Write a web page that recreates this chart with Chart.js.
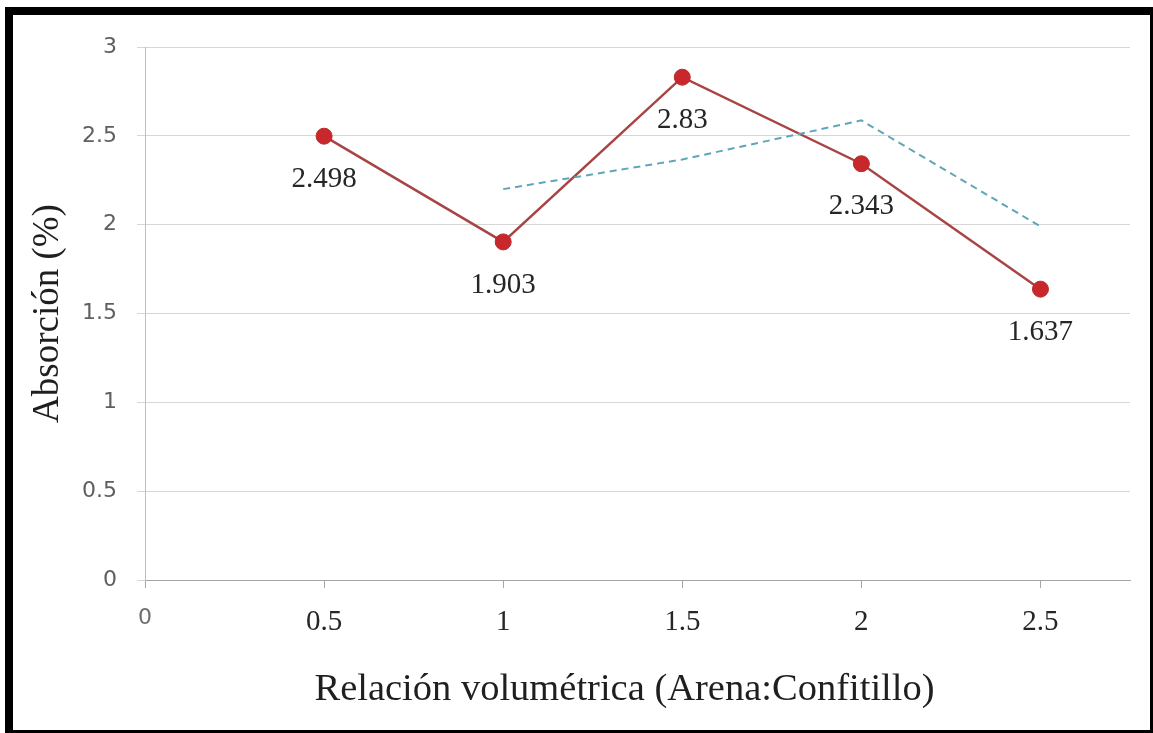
<!DOCTYPE html>
<html lang="es">
<head>
<meta charset="utf-8">
<title>Absorción vs relación volumétrica</title>
<script src="https://cdn.jsdelivr.net/npm/chart.js@4.4.1/dist/chart.umd.min.js"></script>
<style>
  html, body { margin: 0; padding: 0; background: #ffffff; }
  #wrap { position: relative; width: 1153px; height: 733px; }
  #chart { position: absolute; left: 0; top: 0; }
  #frame {
    position: absolute; left: 5px; top: 7px; right: 0; bottom: 0;
    border-style: solid; border-color: #000000;
    border-width: 8px 3px 3px 8px;
    pointer-events: none;
  }
</style>
</head>
<body>
<div id="wrap">
  <canvas id="chart" width="1153" height="733"></canvas>
  <div id="frame"></div>
</div>
<script>
// Relación volumétrica (Arena:Confitillo) and measured absorption (%)
const ratios = [0.5, 1, 1.5, 2, 2.5];
const absorcion = [2.498, 1.903, 2.83, 2.343, 1.637];

// Two-period moving average trend line
const trendRatios = [1, 1.5, 2, 2.5];
const trendValues = [2.2, 2.367, 2.587, 1.99];

// Axis ticks
const xTicks = [0, 0.5, 1, 1.5, 2, 2.5];
const yTicks = [0, 0.5, 1, 1.5, 2, 2.5, 3];

const xTitle = 'Relación volumétrica (Arena:Confitillo)';
const yTitle = 'Absorción (%)';

const SERIF = '"Liberation Serif", "Times New Roman", serif';
const SANS = '"DejaVu Sans", Verdana, sans-serif';

// Value labels under each point
const valueLabels = {
  id: 'valueLabels',
  afterDatasetsDraw(chart) {
    const meta = chart.getDatasetMeta(0);
    const ctx = chart.ctx;
    ctx.save();
    ctx.font = '29px ' + SERIF;
    ctx.fillStyle = '#262626';
    ctx.textAlign = 'center';
    ctx.textBaseline = 'middle';
    meta.data.forEach((pt, i) => {
      ctx.fillText(String(absorcion[i]), pt.x, pt.y + 43);
    });
    ctx.restore();
  }
};

// Horizontal axis caption, set slightly left of the plot centre
const xCaption = {
  id: 'xCaption',
  afterDraw(chart) {
    const { ctx, chartArea } = chart;
    ctx.save();
    ctx.font = '38.5px ' + SERIF;
    ctx.fillStyle = '#1f1f1f';
    ctx.textAlign = 'center';
    ctx.textBaseline = 'middle';
    ctx.fillText(xTitle, (chartArea.left + chartArea.right) / 2 - 13, chartArea.bottom + 110);
    ctx.restore();
  }
};

new Chart(document.getElementById('chart'), {
  type: 'line',
  data: {
    datasets: [
      {
        label: 'Absorción',
        data: ratios.map((r, i) => ({ x: r, y: absorcion[i] })),
        borderColor: '#A94444',
        borderWidth: 2.5,
        pointRadius: 8,
        pointBackgroundColor: '#C8282B',
        pointBorderColor: '#BA2A2A',
        pointBorderWidth: 1,
        tension: 0,
        order: 1
      },
      {
        label: 'Media móvil',
        data: trendRatios.map((r, i) => ({ x: r, y: trendValues[i] })),
        borderColor: '#5FA6BA',
        borderWidth: 2,
        borderDash: [7, 5],
        pointRadius: 0,
        tension: 0,
        order: 0
      }
    ]
  },
  options: {
    responsive: false,
    animation: false,
    layout: { padding: { left: 13, top: 47, right: 23, bottom: 10 } },
    plugins: { legend: { display: false }, tooltip: { enabled: false } },
    scales: {
      x: {
        type: 'linear',
        min: 0,
        max: 2.75,
        afterBuildTicks: s => { s.ticks = xTicks.map(v => ({ value: v })); },
        afterFit: s => { s.height = 143; },
        ticks: {
          padding: 17,
          maxRotation: 0,
          autoSkip: false,
          callback: v => String(v),
          font: c => c.index === 0 ? { family: SANS, size: 22 } : { family: SERIF, size: 29 },
          color: c => c.index === 0 ? '#6e6e6e' : '#262626'
        },
        grid: {
          drawOnChartArea: false,
          drawTicks: true,
          tickLength: 8,
          color: '#a6a6a6'
        },
        border: { display: true, color: '#a6a6a6', width: 1 },
        title: { display: false, text: xTitle }
      },
      y: {
        min: 0,
        max: 3,
        afterBuildTicks: s => { s.ticks = yTicks.map(v => ({ value: v })); },
        afterFit: s => { s.width = 132; },
        ticks: {
          padding: 20,
          callback: v => String(v),
          font: { family: SANS, size: 22 },
          color: '#5f5f5f'
        },
        grid: {
          color: '#d6d6d6',
          lineWidth: 1,
          drawTicks: true,
          tickLength: 8
        },
        border: { display: true, color: '#bfbfbf', width: 1 },
        title: {
          display: true,
          text: yTitle,
          font: { family: SERIF, size: 37 },
          color: '#1f1f1f',
          padding: { top: 13, bottom: 0 }
        }
      }
    }
  },
  plugins: [valueLabels, xCaption]
});
</script>
</body>
</html>
